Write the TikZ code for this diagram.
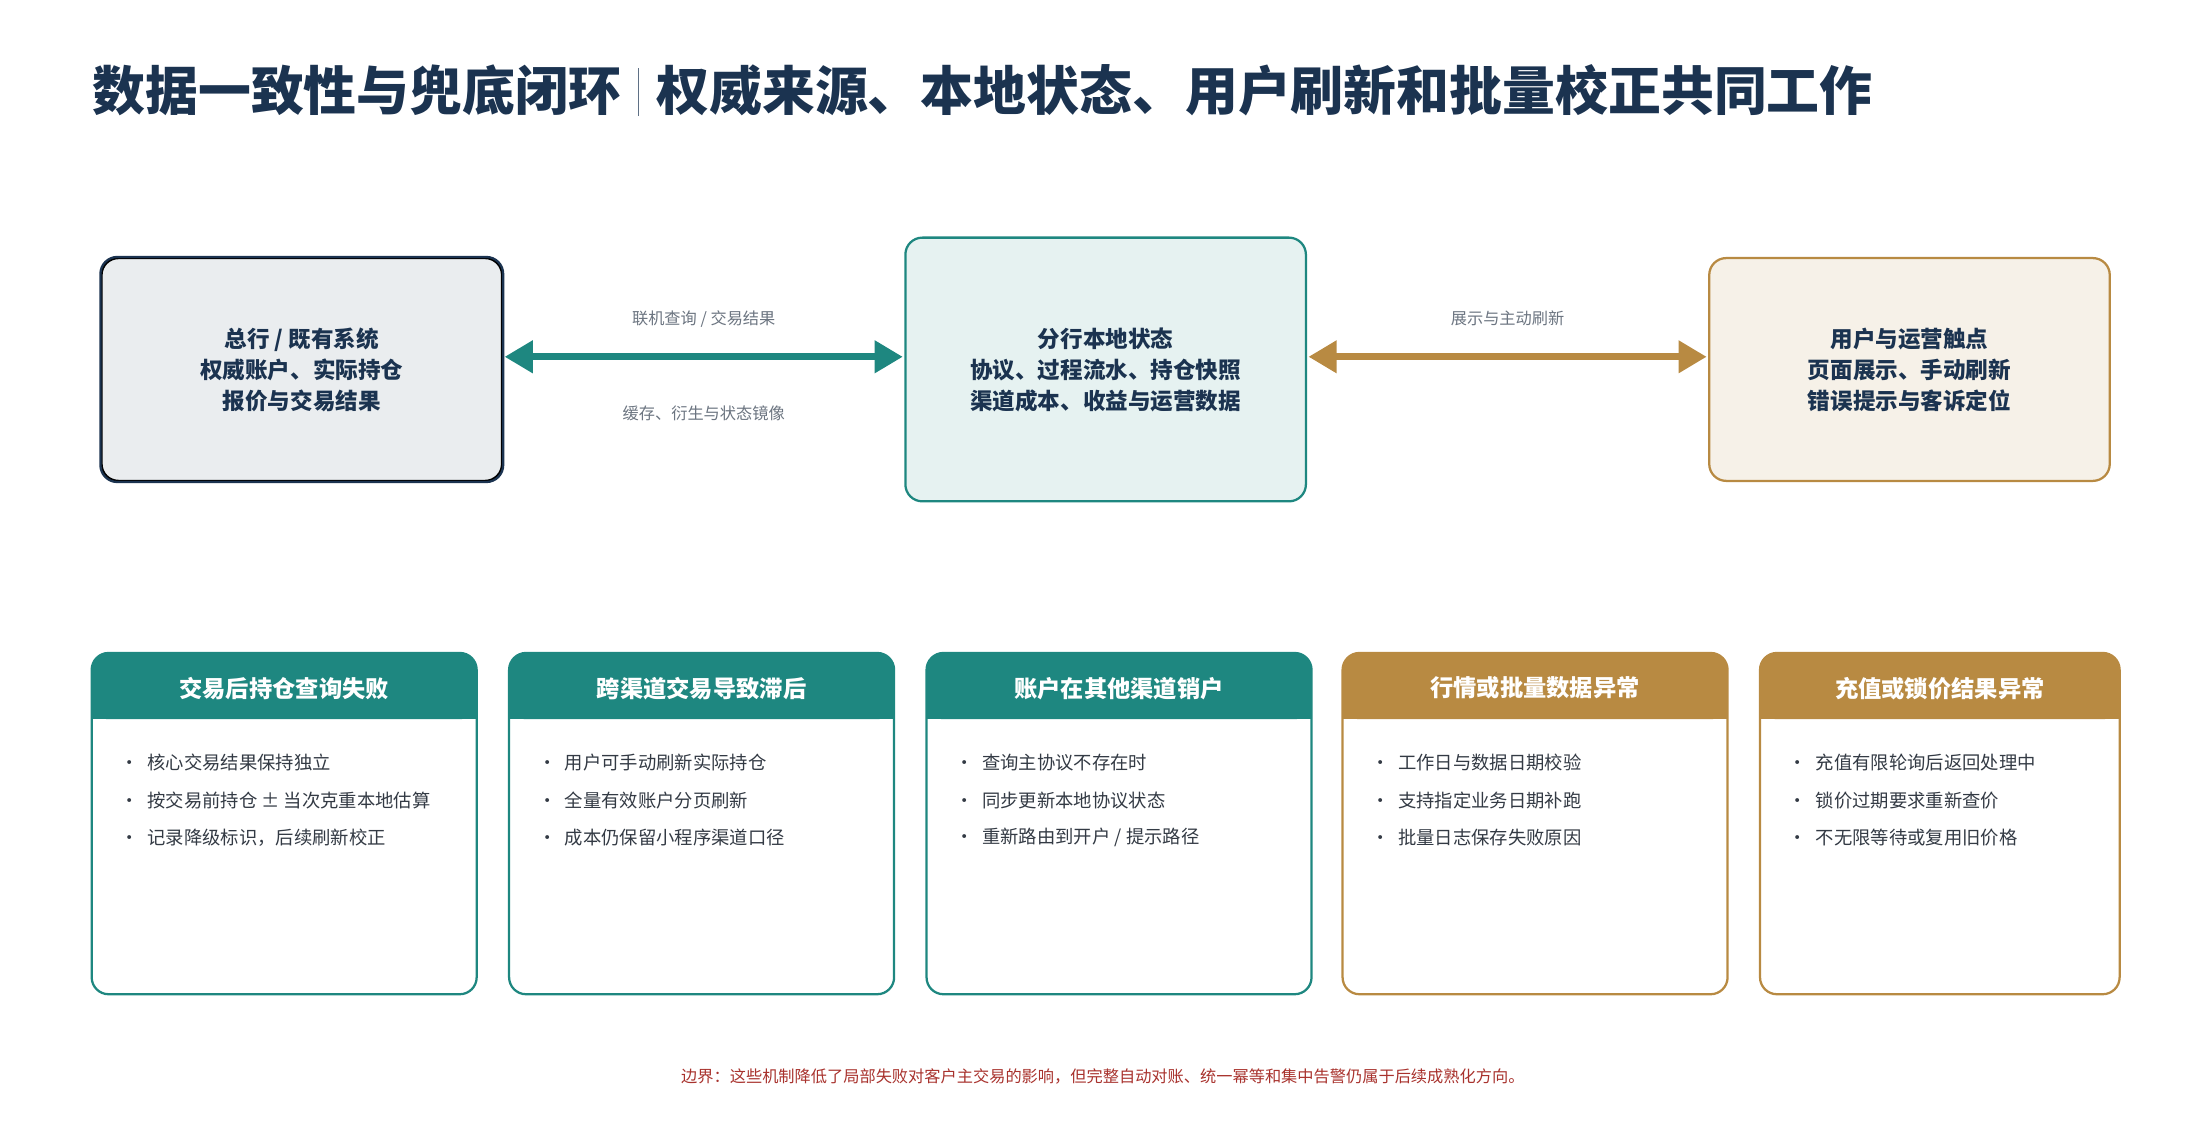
\documentclass[tikz,border=0pt]{standalone}
\usepackage{fontspec}
\setmainfont{Noto Sans CJK SC}
\usetikzlibrary{arrows.meta}
\definecolor{navy}{HTML}{1B3350}
\definecolor{teal}{HTML}{1E8780}
\definecolor{gold}{HTML}{B88A42}
\definecolor{note}{HTML}{6B7480}
\definecolor{body}{HTML}{333A44}
\definecolor{warn}{HTML}{A8322D}
\tikzset{
	top/.style={draw,line width=1.6pt,rounded corners=12pt,align=center,text=navy,
		font=\fontsize{16}{22}\selectfont\bfseries},
	lab/.style={text=note,font=\fontsize{11.5}{14}\selectfont},
	head/.style={text=white,font=\fontsize{16.5}{20}\selectfont\bfseries},
	item/.style={anchor=west,text=body,font=\fontsize{13}{16}\selectfont},
	link/.style={line width=5pt,{Triangle[length=20pt,width=22pt]}-{Triangle[length=20pt,width=22pt]},shorten <=1pt,shorten >=1pt}
}
\newcommand{\card}[7]{%
	\fill[#2,rounded corners=12pt] (#1,463) rectangle ++(#7,47);
	\fill[#2] (#1,490) rectangle ++(#7,20);
	\draw[#2,line width=1.6pt,rounded corners=12pt] (#1,463) rectangle ++(#7,242);
	\node[head] at (#1+#7/2,488) {#3};
	\foreach \t [count=\i] in {#4,#5,#6}
		\node[item] at (#1+17,541+26.5*\i-26.5) {·\hspace{6pt}\t};
}
\begin{document}
\begin{tikzpicture}[x=1pt,y=-1pt]
	\useasboundingbox (0,0) rectangle (1560,794.2);
	\node[anchor=west,text=navy,font=\fontsize{37.5}{42}\selectfont\bfseries] (title) at (62,64)
		{数据一致性与兜底闭环\hspace{12pt}{\color{navy!70}\rule[-4pt]{0.9pt}{34pt}}\hspace{12pt}权威来源、本地状态、用户刷新和批量校正共同工作};

	\node[top,fill=navy!9,minimum width=284pt,minimum height=158pt] (hq) at (214,262)
		{总行 / 既有系统\\权威账户、实际持仓\\报价与交易结果};
	\node[top,draw=teal,fill=teal!11,minimum width=284pt,minimum height=187pt] (local) at (784,262)
		{分行本地状态\\协议、过程流水、持仓快照\\渠道成本、收益与运营数据};
	\node[top,draw=gold,fill=gold!12,minimum width=284pt,minimum height=158pt] (user) at (1354,262)
		{用户与运营触点\\页面展示、手动刷新\\错误提示与客诉定位};
	\draw[navy,line width=1.6pt,rounded corners=12pt] (hq.south west) rectangle (hq.north east);

	\draw[link,teal] (hq.east |- 0,253) -- (local.west |- 0,253);
	\draw[link,gold] (local.east |- 0,253) -- (user.west |- 0,253);
	\node[lab] (sync) at (499,226) {联机查询 / 交易结果};
	\node[lab] (mirror) at (499,293) {缓存、衍生与状态镜像};
	\node[lab] (show) at (1069,226) {展示与主动刷新};

	\card{65}{teal}{交易后持仓查询失败}{核心交易结果保持独立}{按交易前持仓 ± 当次克重本地估算}{记录降级标识，后续刷新校正}{273}
	\card{361}{teal}{跨渠道交易导致滞后}{用户可手动刷新实际持仓}{全量有效账户分页刷新}{成本仍保留小程序渠道口径}{273}
	\card{657}{teal}{账户在其他渠道销户}{查询主协议不存在时}{同步更新本地协议状态}{重新路由到开户 / 提示路径}{273}
	\card{952}{gold}{行情或批量数据异常}{工作日与数据日期校验}{支持指定业务日期补跑}{批量日志保存失败原因}{273}
	\card{1248}{gold}{充值或锁价结果异常}{充值有限轮询后返回处理中}{锁价过期要求重新查价}{不无限等待或复用旧价格}{255}

	\node[text=warn,font=\fontsize{11.5}{14}\selectfont] (limit) at (782,763)
		{边界：这些机制降低了局部失败对客户主交易的影响，但完整自动对账、统一幂等和集中告警仍属于后续成熟化方向。};
\end{tikzpicture}
\end{document}
